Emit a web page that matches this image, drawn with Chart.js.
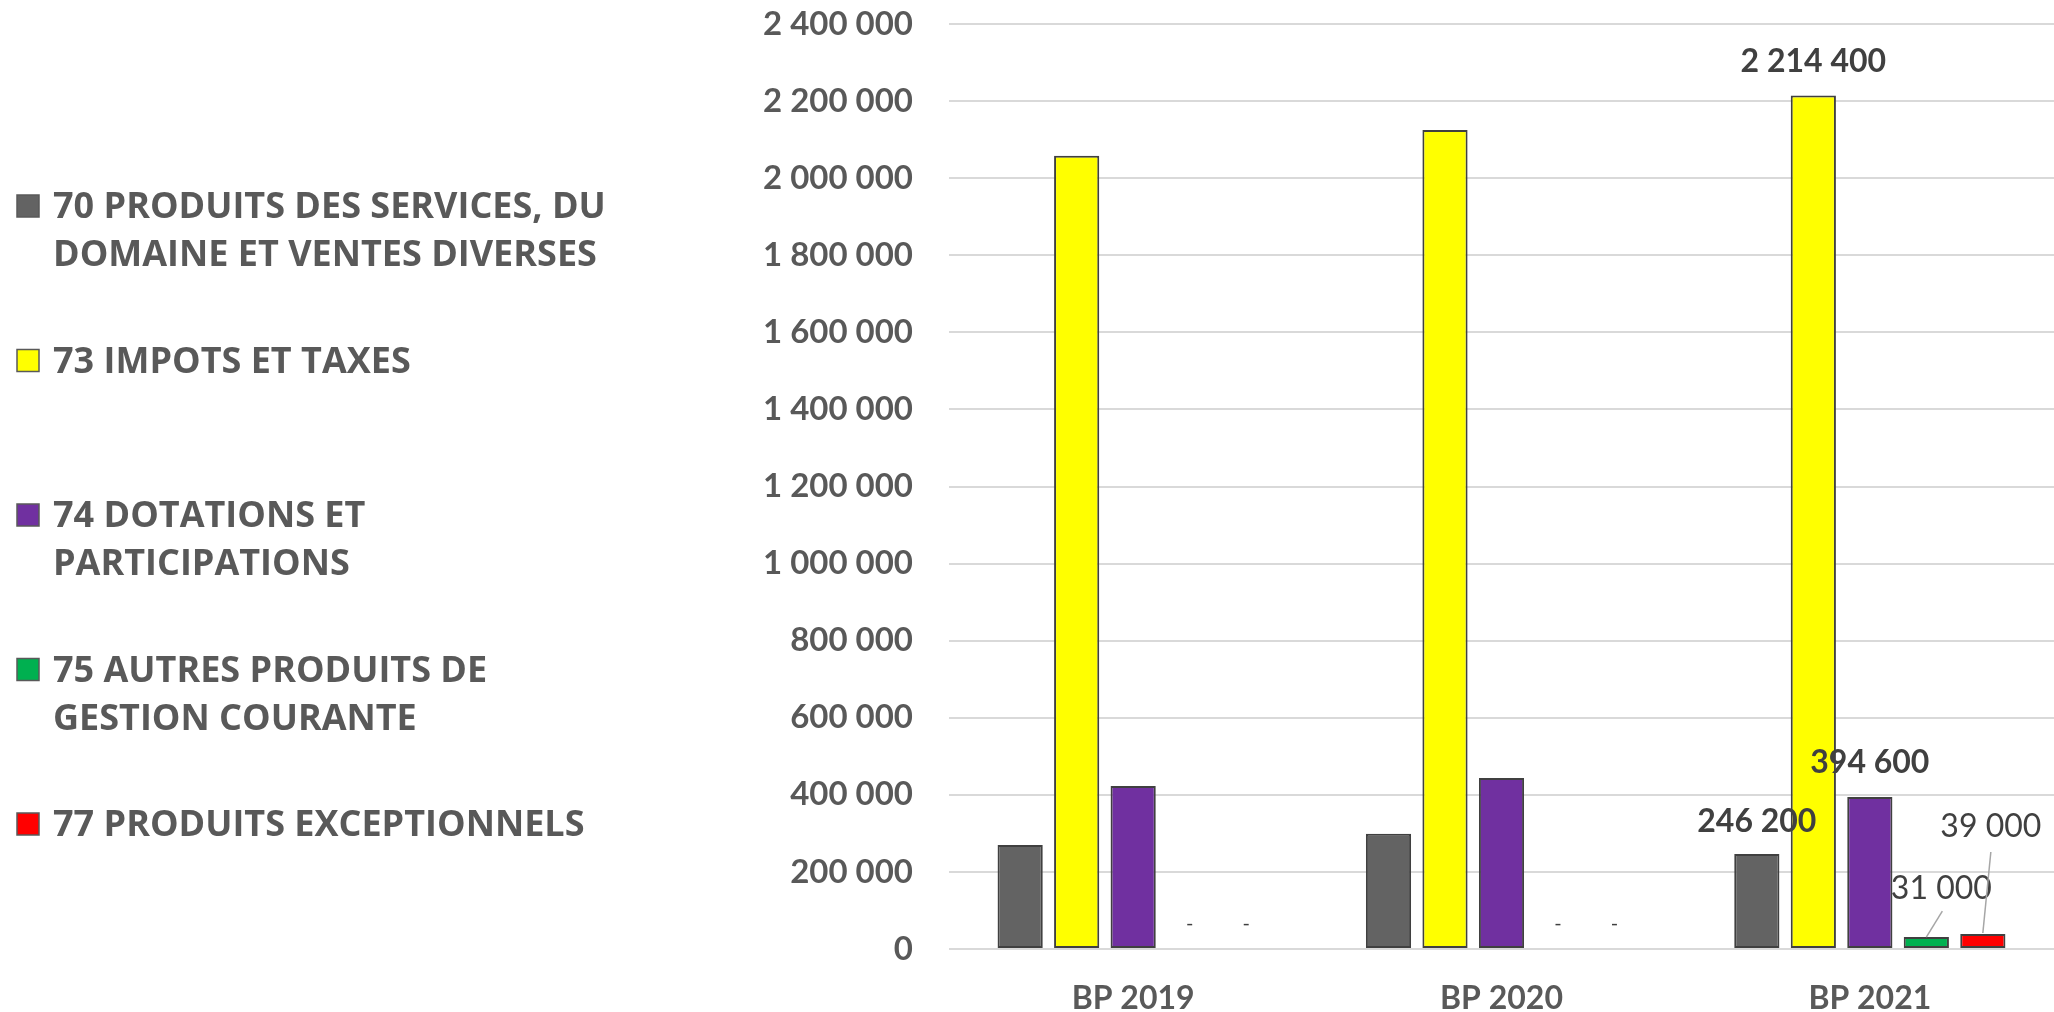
<!DOCTYPE html>
<html>
<head>
<meta charset="utf-8">
<script src="https://cdn.jsdelivr.net/npm/chart.js@4.4.0/dist/chart.umd.min.js"></script>
<style>
  html, body { margin: 0; padding: 0; background: #fff; }
  #wrap { width: 2054px; height: 1012px; position: relative; }
</style>
</head>
<body>
<div id="wrap"><canvas id="barChart"></canvas></div>
<script>
// Données du graphique
const categories = ['BP 2019', 'BP 2020', 'BP 2021'];
const seriesNames = [
  '70 PRODUITS DES SERVICES, DU\nDOMAINE ET VENTES DIVERSES',
  '73 IMPOTS ET TAXES',
  '74 DOTATIONS ET\nPARTICIPATIONS',
  '75 AUTRES PRODUITS DE\nGESTION COURANTE',
  '77 PRODUITS EXCEPTIONNELS'
];
const produitsServices = [270000, 299000, 246200];
const impotsTaxes = [2058000, 2125000, 2214400];
const dotations = [423000, 444000, 394600];
const autresProduits = [0, 0, 31000];
const produitsExceptionnels = [0, 0, 39000];

const seriesValues = [produitsServices, impotsTaxes, dotations, autresProduits, produitsExceptionnels];
const seriesColors = ['#636363', '#FFFF00', '#7030A0', '#00B050', '#FF0000'];

const FONT = 'Lato, "Open Sans", sans-serif';
const LEGEND_FONT = '"Open Sans", Lato, sans-serif';
const labelledIndex = 2; // seule la colonne BP 2021 porte des étiquettes

// format "2 400 000"
const fmt = v => String(Math.round(v)).replace(/\B(?=(\d{3})+(?!\d))/g, ' ');

// Étiquettes de données (position relative au haut de la barre)
const etiquettesPlugin = {
  id: 'etiquettes',
  afterDatasetsDraw(chart) {
    const ctx = chart.ctx;
    const styles = [
      { bold: true, dx: 0, dy: -32 },
      { bold: true, dx: 0, dy: -34 },
      { bold: true, dx: 0, dy: -34 },
      { bold: false, dx: 15, dy: -48, leader: [16, -26, 0, 0] },
      { bold: false, dx: 8, dy: -107, leader: [8, -82, 0, -1] }
    ];
    ctx.save();
    ctx.textAlign = 'center';
    ctx.textBaseline = 'middle';
    chart.data.datasets.forEach((ds, i) => {
      const meta = chart.getDatasetMeta(i);
      meta.data.forEach((bar, j) => {
        const v = ds.data[j];
        if (v === 0) {
          ctx.fillStyle = '#404040';
          ctx.font = `20px ${FONT}`;
          ctx.fillText('-', bar.x, bar.base - 25);
          return;
        }
        if (j !== labelledIndex) return;
        const st = styles[i];
        if (st.leader) {
          ctx.strokeStyle = '#a6a6a6';
          ctx.lineWidth = 1.5;
          ctx.beginPath();
          ctx.moveTo(bar.x + st.leader[0], bar.y + st.leader[1]);
          ctx.lineTo(bar.x + st.leader[2], bar.y + st.leader[3]);
          ctx.stroke();
        }
        ctx.fillStyle = '#404040';
        ctx.font = `${st.bold ? 'bold ' : ''}32px ${FONT}`;
        ctx.fillText(fmt(v), bar.x + st.dx, bar.y + st.dy);
      });
    });
    ctx.restore();
  }
};

// Légende à gauche, sur plusieurs lignes
const legendePlugin = {
  id: 'legendeGauche',
  afterDraw(chart) {
    const ctx = chart.ctx;
    ctx.save();
    ctx.textBaseline = 'middle';
    ctx.textAlign = 'left';
    ctx.font = `bold 36px ${LEGEND_FONT}`;
    chart.data.datasets.forEach((ds, i) => {
      const y0 = 206 + i * 154.5;
      ctx.fillStyle = ds.backgroundColor;
      ctx.fillRect(17, y0 - 11, 22, 22);
      ctx.strokeStyle = '#595959';
      ctx.lineWidth = 1.5;
      ctx.strokeRect(17, y0 - 11, 22, 22);
      ctx.fillStyle = '#595959';
      ds.label.split('\n').forEach((line, k) => {
        ctx.fillText(line, 53, y0 + 2 + k * 48);
      });
    });
    ctx.restore();
  }
};

const ctx = document.getElementById('barChart').getContext('2d');
const barChart = new Chart(ctx, {
  type: 'bar',
  data: {
    labels: categories,
    datasets: seriesNames.map((name, i) => ({
      label: name,
      data: seriesValues[i],
      backgroundColor: seriesColors[i],
      borderColor: '#404040',
      borderWidth: 2,
      borderSkipped: false,
      categoryPercentage: 0.767,
      barPercentage: 0.8
    }))
  },
  options: {
    responsive: true,
    maintainAspectRatio: false,
    animation: false,
    layout: { padding: { left: 749, top: 24, right: 0, bottom: 0 } },
    plugins: {
      legend: { display: false },
      tooltip: { enabled: true }
    },
    scales: {
      x: {
        grid: { display: false, drawTicks: false },
        border: { display: false },
        ticks: {
          color: '#595959',
          font: { family: FONT, size: 32, weight: 'bold' },
          padding: 30
        },
        afterFit: s => { s.height = 63; }
      },
      y: {
        min: 0,
        max: 2400000,
        grid: { color: '#d9d9d9', lineWidth: 2, drawTicks: false },
        border: { display: false },
        ticks: {
          stepSize: 200000,
          color: '#595959',
          font: { family: FONT, size: 33, weight: 'bold' },
          padding: 36,
          callback: v => fmt(v)
        },
        afterFit: s => {
          s.width = 200;
          s.paddingTop = 20;
          s.paddingBottom = 0;
        }
      }
    }
  },
  plugins: [etiquettesPlugin, legendePlugin]
});
</script>
</body>
</html>
